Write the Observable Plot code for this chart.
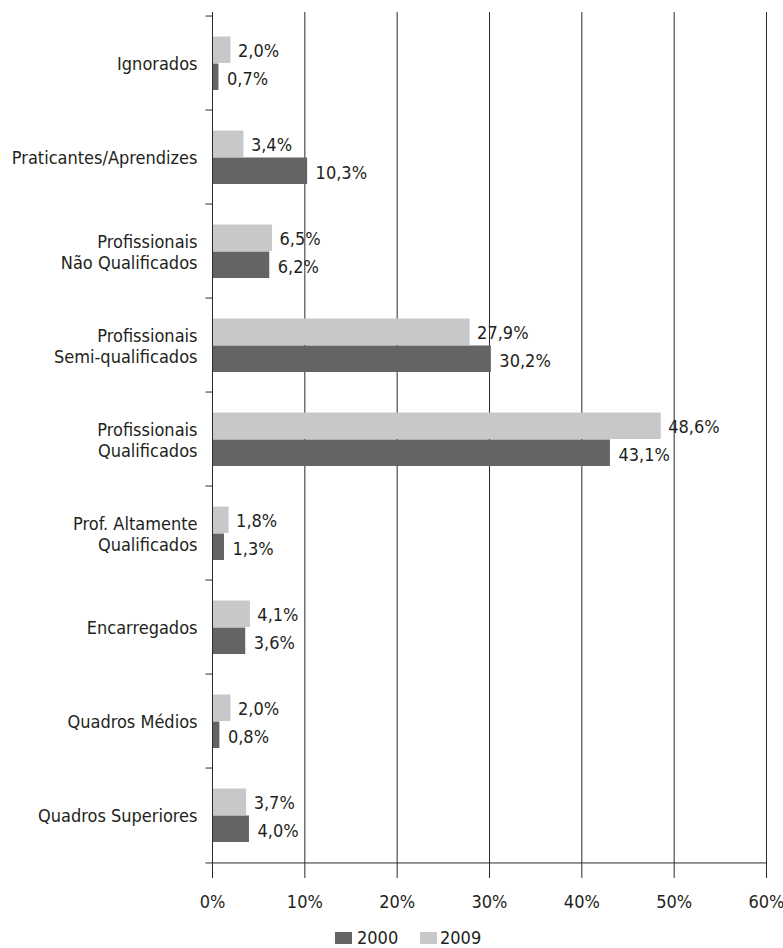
<!DOCTYPE html>
<html><head><meta charset="utf-8">
<script src="https://cdn.jsdelivr.net/npm/d3@7"></script>
<script src="https://cdn.jsdelivr.net/npm/@observablehq/plot@0.6"></script>
<style>
body{margin:0;background:#fff;font-family:"DejaVu Sans Condensed","DejaVu Sans",sans-serif;}
#legend{position:relative;height:30px;width:783px;font-size:18px;color:#231f20}
.sw{position:absolute;top:14px;width:17px;height:12px}
.lb{position:absolute;top:11px;line-height:18px}
</style>
</head><body>
<div id="chart"></div>
<div id="legend"></div>
<script>
const categories = ["Ignorados","Praticantes/Aprendizes","Profissionais\nNão Qualificados","Profissionais\nSemi-qualificados","Profissionais\nQualificados","Prof. Altamente\nQualificados","Encarregados","Quadros Médios","Quadros Superiores"];
const values2000 = [0.7,10.3,6.2,30.2,43.1,1.3,3.6,0.8,4.0];
const values2009 = [2.0,3.4,6.5,27.9,48.6,1.8,4.1,2.0,3.7];
const xTicks = [0,10,20,30,40,50,60];
const seriesNames = ["2000","2009"];
const seriesColors = ["#646464","#c8c8ca"];

const rows = categories.map((c,i)=>({category:c, v2000:values2000[i], v2009:values2009[i]}));
const fmt = v => v.toFixed(1).replace(".", ",") + "%";
const bw = (866-12)/categories.length;
const ink = "#2b2b2b";
const font = '"DejaVu Sans Condensed","DejaVu Sans",sans-serif';

const chart = Plot.plot({
  width:783, height:918, marginTop:12, marginLeft:212, marginRight:17, marginBottom:52,
  style:{fontFamily:font, fontSize:"18px", color:"#231f20", background:"#fff", overflow:"visible"},
  x:{domain:[0,60], axis:null},
  y:{domain:categories, axis:null, padding:0},
  marks:[
    Plot.gridX(xTicks.slice(1), {stroke:ink, strokeOpacity:1}),
    Plot.barX(rows,{y:"category", x:"v2009", fill:seriesColors[1], insetTop:20.5, insetBottom:47}),
    Plot.barX(rows,{y:"category", x:"v2000", fill:seriesColors[0], insetTop:47.5, insetBottom:20}),
    Plot.ruleX([0], {stroke:ink}),
    Plot.ruleY(categories, {y:d=>d, x1:-0.7, x2:0, dy:-bw/2, stroke:ink}),
    Plot.ruleY([categories[categories.length-1]], {y:d=>d, x1:-0.7, x2:60, dy:bw/2, stroke:ink}),
    Plot.axisX({ticks:xTicks, tickSize:12, tickPadding:17, tickFormat:d=>d+"%", stroke:ink, fill:"#231f20", fontSize:18}),
    Plot.text(categories, {y:d=>d, text:d=>d, frameAnchor:"left", textAnchor:"end", dx:-15, lineHeight:1.17, fill:"#231f20", fontSize:18}),
    Plot.text(rows, {y:"category", x:"v2009", text:d=>fmt(d.v2009), textAnchor:"start", dx:7, dy:-12.5, fill:"#231f20", fontSize:18}),
    Plot.text(rows, {y:"category", x:"v2000", text:d=>fmt(d.v2000), textAnchor:"start", dx:8, dy:15.5, fill:"#231f20", fontSize:18})
  ]
});
document.getElementById("chart").appendChild(chart);

const legend = document.getElementById("legend");
const pos = [[335,357],[420,440]];
seriesNames.forEach((n,i)=>{
  const s=document.createElement("div"); s.className="sw"; s.style.left=pos[i][0]+"px"; s.style.background=seriesColors[i]; legend.appendChild(s);
  const l=document.createElement("div"); l.className="lb"; l.style.left=pos[i][1]+"px"; l.textContent=n; legend.appendChild(l);
});
</script>
</body></html>
